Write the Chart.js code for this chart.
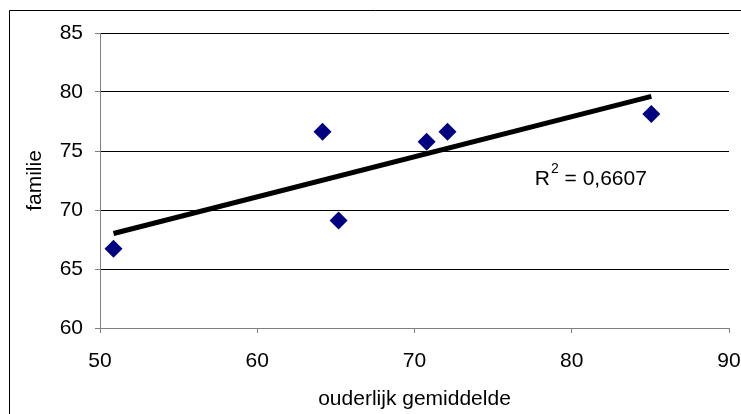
<!DOCTYPE html>
<html>
<head>
<meta charset="utf-8">
<script src="https://cdn.jsdelivr.net/npm/chart.js@4/dist/chart.umd.min.js"></script>
<style>
  html, body { margin: 0; padding: 0; background: #fff; }
  #wrap { width: 741px; height: 414px; position: relative; }
</style>
</head>
<body>
<div id="wrap"><canvas id="c" width="741" height="414"></canvas></div>
<script>
// ---- data ----
const ouderlijkGemiddelde = [50.86, 64.15, 65.17, 70.77, 72.1, 85.06];
const familie = [66.72, 76.64, 69.12, 75.79, 76.64, 78.14];
const xTicks = [50, 60, 70, 80, 90];
const yTicks = [60, 65, 70, 75, 80, 85];
const xTitle = 'ouderlijk gemiddelde';
const yTitle = 'familie';
const r2Text = '0,6607';

// least-squares trend line through the points
function linReg(xs, ys) {
  const n = xs.length;
  const mx = xs.reduce((a, b) => a + b, 0) / n;
  const my = ys.reduce((a, b) => a + b, 0) / n;
  let sxy = 0, sxx = 0;
  for (let i = 0; i < n; i++) { sxy += (xs[i] - mx) * (ys[i] - my); sxx += (xs[i] - mx) ** 2; }
  const m = sxy / sxx;
  return { m, b: my - m * mx };
}
const fit = linReg(ouderlijkGemiddelde, familie);
const xMin = Math.min(...ouderlijkGemiddelde), xMax = Math.max(...ouderlijkGemiddelde);
const trend = [xMin, xMax].map(x => ({ x, y: fit.m * x + fit.b }));
const points = ouderlijkGemiddelde.map((x, i) => ({ x, y: familie[i] }));

const FONT = 'Liberation Sans, Arial, sans-serif';

const framePlugin = {
  id: 'frame',
  beforeDraw(chart) {
    const ctx = chart.ctx;
    ctx.save();
    ctx.strokeStyle = '#000';
    ctx.lineWidth = 1;
    ctx.beginPath();
    ctx.moveTo(9.5, 500);
    ctx.lineTo(9.5, 10.5);
    ctx.lineTo(800, 10.5);
    ctx.stroke();
    ctx.restore();
  },
  afterDatasetsDraw(chart) {
    const ctx = chart.ctx;
    const xs = chart.scales.x, ys = chart.scales.y;
    // R² label anchored in data space
    const px = xs.getPixelForValue(77.65);
    const py = ys.getPixelForValue(72.15);
    ctx.save();
    ctx.fillStyle = '#000';
    ctx.textBaseline = 'alphabetic';
    ctx.textAlign = 'left';
    ctx.font = '21px ' + FONT;
    ctx.fillText('R', px, py);
    let w = ctx.measureText('R').width;
    ctx.font = '14px ' + FONT;
    ctx.fillText('2', px + w + 1, py - 12);
    const w2 = ctx.measureText('2').width;
    ctx.font = '21px ' + FONT;
    ctx.fillText(' = ' + r2Text, px + w + w2 + 1, py);
    ctx.restore();
  }
};

new Chart(document.getElementById('c'), {
  type: 'scatter',
  data: {
    datasets: [
      {
        type: 'line',
        data: trend,
        borderColor: '#000',
        borderWidth: 5,
        pointRadius: 0,
        fill: false,
        order: 0
      },
      {
        data: points,
        backgroundColor: '#000080',
        borderColor: '#000080',
        borderWidth: 0,
        pointStyle: 'rectRot',
        pointRadius: 9,
        pointHoverRadius: 9,
        order: 1
      }
    ]
  },
  options: {
    responsive: false,
    animation: false,
    devicePixelRatio: 1,
    layout: { padding: { top: 33, right: 0, left: 0, bottom: 0 } },
    plugins: { legend: { display: false }, tooltip: { enabled: false } },
    scales: {
      x: {
        type: 'linear',
        min: 50, max: 90,
        afterBuildTicks: s => { s.ticks = xTicks.map(v => ({ value: v })); },
        afterFit: s => { s.height = 86; s.paddingRight = 12; s.paddingLeft = 0; },
        grid: { drawOnChartArea: false, drawTicks: true, tickLength: 5, color: '#808080', tickColor: '#808080' },
        border: { display: true, color: '#808080', width: 1 },
        ticks: { color: '#000', padding: 16, maxRotation: 0, font: { family: FONT, size: 21 } },
        title: { display: true, text: xTitle, color: '#000', font: { family: FONT, size: 21 }, padding: { top: 0, bottom: 2 } }
      },
      y: {
        type: 'linear',
        min: 60, max: 85,
        afterBuildTicks: s => { s.ticks = yTicks.map(v => ({ value: v })); },
        afterFit: s => { s.width = 100; },
        grid: {
          drawTicks: true, tickLength: 5,
          color: ctx => (ctx.tick && ctx.tick.value === 60) ? 'rgba(0,0,0,0)' : '#000',
          tickColor: '#808080'
        },
        border: { display: true, color: '#808080', width: 1 },
        ticks: { color: '#000', padding: 12, font: { family: FONT, size: 21 } },
        title: { display: true, text: yTitle, color: '#000', font: { family: FONT, size: 21 }, padding: { top: 23, bottom: 0 } }
      }
    }
  },
  plugins: [framePlugin]
});
</script>
</body>
</html>
